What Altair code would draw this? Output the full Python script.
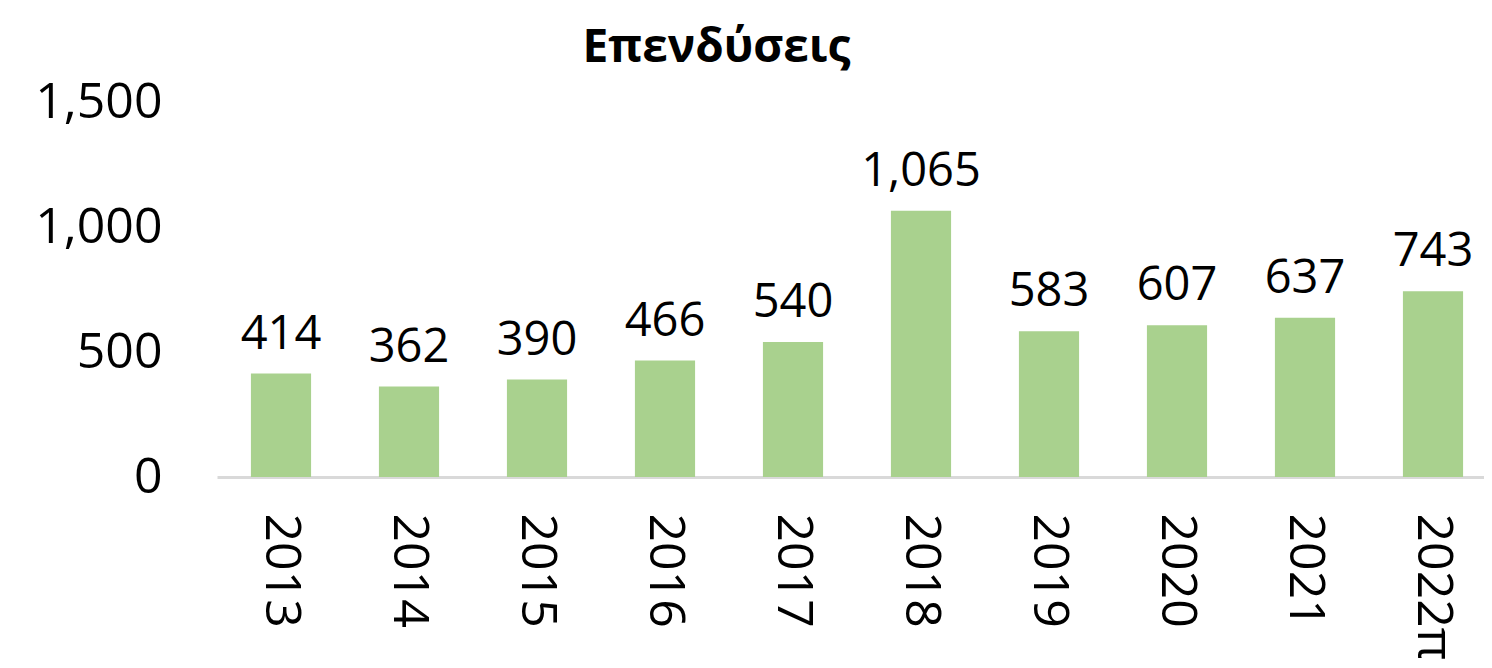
import altair as alt
import pandas as pd

years = ["2013", "2014", "2015", "2016", "2017", "2018", "2019", "2020", "2021", "2022π"]
values = [414, 362, 390, 466, 540, 1065, 583, 607, 637, 743]
title_text = "Επενδύσεις"
y_ticks = [0, 500, 1000, 1500]

df = pd.DataFrame({"year": years, "value": values})

FONT = "Open Sans"

x = alt.X(
    "year:N",
    sort=years,
    title=None,
    scale=alt.Scale(range=[0, 1280], paddingInner=0.53, paddingOuter=0.265),
    axis=alt.Axis(
        labelAngle=90,
        labelAlign="left",
        labelBaseline="middle",
        labelFontSize=50,
        labelFont=FONT,
        labelColor="#000000",
        labelPadding=36,
        ticks=False,
        domainColor="#D9D9D9",
        domainWidth=3,
        grid=False,
    ),
)
y = alt.Y(
    "value:Q",
    title=None,
    scale=alt.Scale(domain=[0, 1500], nice=False),
    axis=alt.Axis(
        values=y_ticks,
        format=",d",
        labelFontSize=50,
        labelFont=FONT,
        labelColor="#000000",
        labelPadding=55,
        ticks=False,
        domain=False,
        grid=False,
    ),
)

base = alt.Chart(df)
bars = base.mark_bar(color="#A9D18E").encode(x=x, y=y)
labels = base.mark_text(
    baseline="alphabetic", align="center", dy=-25, fontSize=47, font=FONT, color="#000000"
).encode(x=x, y=y, text=alt.Text("value:Q", format=",d"))

chart = (
    alt.layer(bars, labels)
    .properties(
        width=1267,
        height=375,
        autosize="none",
        padding={"left": 209, "top": 94, "right": 0, "bottom": 183},
        title=alt.TitleParams(
            title_text,
            font=FONT,
            fontSize=46,
            fontWeight="bold",
            color="#000000",
            anchor="middle",
            dx=-134,
            offset=5,
        ),
    )
    .configure_view(stroke=None)
)

chart.save("out.html", embed_options={"renderer": "svg", "actions": False})
